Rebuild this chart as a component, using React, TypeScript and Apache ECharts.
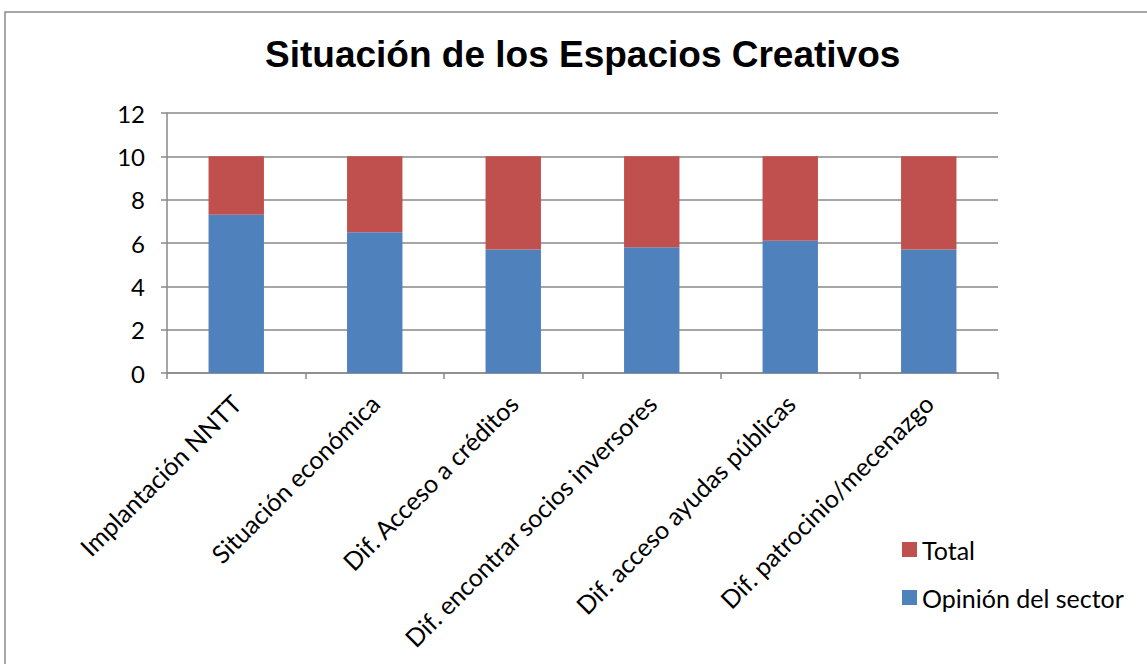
import React, { useEffect, useRef } from "react";
import * as echarts from "echarts";

const categories = [
  "Implantación NNTT",
  "Situación económica",
  "Dif. Acceso a créditos",
  "Dif. encontrar socios inversores",
  "Dif. acceso ayudas públicas",
  "Dif. patrocinio/mecenazgo",
];
const opinionSector = [7.3, 6.5, 5.7, 5.8, 6.1, 5.7];
const total = [2.7, 3.5, 4.3, 4.2, 3.9, 4.3];
const yTicks = { min: 0, max: 12, interval: 2 };

const FONT = "Lato, 'Noto Sans', sans-serif";
const GRID_GRAY = "#898989";

export default function App() {
  const ref = useRef<HTMLDivElement>(null);

  useEffect(() => {
    if (!ref.current) return;
    const chart = echarts.init(ref.current, undefined, { renderer: "svg" });
    chart.setOption({
      animation: false,
      backgroundColor: "#ffffff",
      title: {
        text: "Situación de los Espacios Creativos",
        left: 260,
        top: 31,
        textStyle: {
          fontFamily: "'Liberation Sans', Arial, sans-serif",
          fontWeight: "bold",
          fontSize: 37,
          color: "#000",
        },
      },
      graphic: [
        {
          type: "rect",
          shape: { x: 5, y: 12, width: 1200, height: 700 },
          style: { fill: "none", stroke: "#8a8a8a", lineWidth: 1.5 },
          silent: true,
        },
      ],
      legend: {
        orient: "vertical",
        left: 897,
        top: 532,
        itemWidth: 15,
        itemHeight: 15,
        itemGap: 23,
        icon: "rect",
        data: ["Total", "Opinión del sector"],
        textStyle: { fontFamily: FONT, fontSize: 25, color: "#000" },
      },
      grid: { left: 167, right: 149, top: 113, bottom: 291 },
      xAxis: {
        type: "category",
        data: categories,
        axisLine: { lineStyle: { color: GRID_GRAY, width: 1.5 } },
        axisTick: { show: true, length: 6, lineStyle: { color: GRID_GRAY, width: 1.5 } },
        axisLabel: {
          rotate: 45,
          margin: 26,
          interval: 0,
          fontFamily: FONT,
          fontSize: 25,
          color: "#000",
        },
      },
      yAxis: {
        type: "value",
        min: yTicks.min,
        max: yTicks.max,
        interval: yTicks.interval,
        axisLine: { show: true, lineStyle: { color: GRID_GRAY, width: 1.5 } },
        axisTick: { show: true, length: 6, inside: false, lineStyle: { color: GRID_GRAY, width: 1.5 } },
        splitLine: { lineStyle: { color: GRID_GRAY, width: 1.5 } },
        axisLabel: { margin: 22, fontFamily: FONT, fontSize: 24, color: "#000" },
      },
      series: [
        {
          name: "Opinión del sector",
          type: "bar",
          stack: "s",
          data: opinionSector,
          barWidth: "40%",
          itemStyle: { color: "#4F81BD" },
        },
        {
          name: "Total",
          type: "bar",
          stack: "s",
          data: total,
          barWidth: "40%",
          itemStyle: { color: "#C0504D" },
        },
      ],
    });
    return () => chart.dispose();
  }, []);

  return (
    <div
      ref={ref}
      style={{ position: "fixed", left: 0, top: 0, width: 1147, height: 664, background: "#fff" }}
    />
  );
}
